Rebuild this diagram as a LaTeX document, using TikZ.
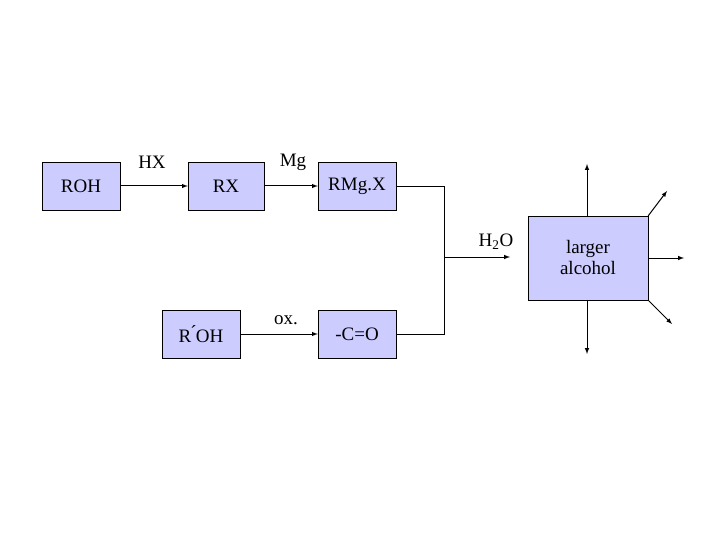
\documentclass[tikz,border=0pt]{standalone}
\usepackage{fontspec}
\setmainfont{Liberation Serif}
\definecolor{boxfill}{RGB}{204,204,255}
\begin{document}
\begin{tikzpicture}[x=1pt,y=-1pt,
  bx/.style={draw=black,fill=boxfill,inner sep=0pt,font=\fontsize{19}{21}\selectfont},
  lbl/.style={inner sep=0pt,font=\fontsize{19}{21}\selectfont},
  ar/.style={-latex,line width=1pt}]
\useasboundingbox (0,0) rectangle (720,540);
\node[bx,minimum width=78,minimum height=48] (roh) at (81,186) {ROH};
\node[bx,minimum width=76,minimum height=48] (rx) at (226,186) {RX};
\node[bx,minimum width=78,minimum height=48] (rmg) at (357,186) {RMg.X};
\node[bx,minimum width=78,minimum height=48] (roh2) at (201,334) {R\'{}OH};
\node[bx,minimum width=78,minimum height=48] (co) at (357,334) {-C=O};
\node[bx,minimum width=120,minimum height=84,align=center] (alc) at (588,258) {larger\\alcohol};
\draw[ar] (roh) -- (rx);
\draw[ar] (rx) -- (rmg);
\draw[ar] (roh2) -- (co);
\node[lbl] (hx) at (152,162) {HX};
\node[lbl] (mg) at (293,162) {Mg};
\node[lbl] (ox) at (286,320) {ox.};
\node[lbl] (w) at (496,242) {H\textsubscript{2}O};
\coordinate (t1) at (444,186);
\coordinate (t2) at (444,334);
\coordinate (m) at (444,257);
\coordinate (m2) at (510,257);
\draw[line width=0.8pt] (rmg.east) -- (t1) -- (t2) -- (co.east);
\draw[ar] (m) -- (m2);
\coordinate (a1) at (587,164);
\coordinate (a2) at (587,354);
\coordinate (a3) at (684,258);
\coordinate (a4) at (667,191);
\coordinate (a5) at (672,324);
\draw[ar] (alc.north -| a1) -- (a1);
\draw[ar] (alc.south -| a2) -- (a2);
\draw[ar] (alc.east) -- (a3);
\draw[ar] (alc.north east) -- (a4);
\draw[ar] (alc.south east) -- (a5);
\end{tikzpicture}
\end{document}
